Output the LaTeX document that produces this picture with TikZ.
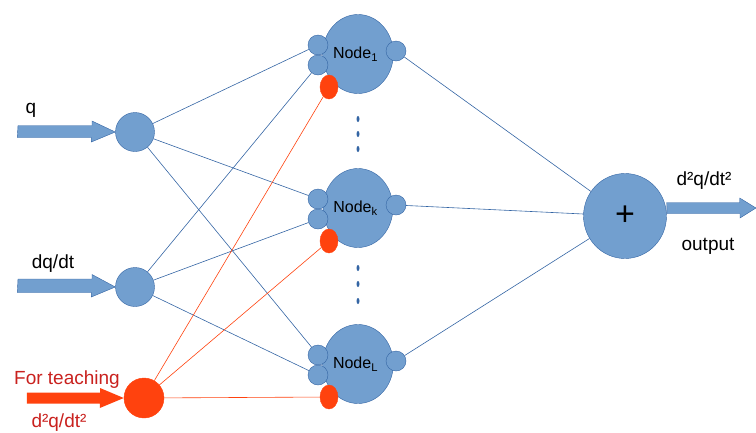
\documentclass[tikz,border=0pt]{standalone}
\usepackage{fontspec}
\setmainfont{Liberation Sans}
\usetikzlibrary{shapes.geometric}
\definecolor{nnfill}{HTML}{729FCF}
\definecolor{nnline}{HTML}{3465A4}
\definecolor{teach}{HTML}{FF420E}
\definecolor{teachtext}{HTML}{C9211E}
\tikzset{
  neuron/.style={circle, fill=nnfill, draw=nnline, minimum size=39pt, inner sep=0pt},
  port/.style={circle, fill=nnfill, draw=nnline, minimum size=20pt, inner sep=0pt},
  tport/.style={ellipse, fill=teach, draw=teach, minimum width=18pt, minimum height=24pt, inner sep=0pt},
  body/.style={ellipse, fill=nnfill, draw=nnline, minimum width=58pt, minimum height=79pt, inner sep=0pt, font=\fontsize{16}{18}\selectfont},
  wire/.style={draw=nnline, line width=0.6pt},
  twire/.style={draw=teach, line width=0.6pt},
  lbl/.style={font=\fontsize{19}{22}\selectfont, inner sep=0pt},
  dot/.style={ellipse, fill=nnline, minimum width=3pt, minimum height=6pt, inner sep=0pt},
}
\begin{document}
\begin{tikzpicture}[x=1pt,y=-1pt]
  \useasboundingbox (0,0) rectangle (756,432);
  % inputs
  \node[neuron] (q) at (135,132) {};
  \node[neuron] (dq) at (135,287) {};
  \node[neuron, fill=teach, draw=teach, minimum size=40pt] (t) at (144,398) {};
  \coordinate (qin) at (18,131);
  \coordinate (dqin) at (18,284);
  \coordinate (tin) at (27,398);
  \fill[nnfill, draw=nnline] (qin) ++(0,-5.5) -- ++(74,0) -- ++(0,-4.5) -- (q.west) -- ++(-24,10) -- ++(0,-4.5) -- ++(-74,0) -- cycle;
  \fill[nnfill, draw=nnline] (dqin) ++(0,-5) -- ++(74,0) -- ++(0,-4.5) -- (dq.west) -- ++(-24,10) -- ++(0,-4.5) -- ++(-74,0) -- cycle;
  \fill[teach] (tin) ++(0,-5.5) -- ++(73,0) -- ++(0,-4.5) -- (t.west) -- ++(-24,10) -- ++(0,-4.5) -- ++(-73,0) -- cycle;
  \node[lbl] (lq) at (31,110) {q};
  \node[lbl] (ldq) at (53,264) {dq/dt};
  \node[lbl, text=teachtext] (lt) at (67,380) {For teaching};
  \node[lbl, text=teachtext] (lt2) at (59,423) {d²q/dt²};
  % hidden nodes
  \foreach \n/\y/\s in {1/54/1, k/208/k, L/364/L}{
    \node[body] (n\n) at (358,\y) {Node\textsubscript{\s}\hspace*{5pt}};
    \node[port] (a\n) at (318,\y-9) {};
    \node[port] (b\n) at (318,\y+11) {};
    \node[tport] (r\n) at (329,\y+33) {};
    \node[port] (o\n) at (396,\y-3) {};
  }
  \foreach \y in {119,134,149,268,284,301}
    \node[dot] (d\y) at (358,\y) {};
  % output
  \node[ellipse, fill=nnfill, draw=nnline, minimum width=83pt, minimum height=85pt, inner sep=0pt, font=\fontsize{34}{34}\selectfont] (sum) at (625,216) {+};
  \coordinate (out) at (756,208);
  \fill[nnfill, draw=nnline] (sum.east |- out) ++(0,-5.5) -- ++(73,0) -- ++(0,-4.5) -- (out) -- ++(-16,10) -- ++(0,-4.5) -- ++(-73,0) -- cycle;
  \node[lbl] (ld) at (704,181) {d²q/dt²};
  \node[lbl] (lo) at (708,246) {output};
  % connections
  \path[wire]
  (q) edge (a1) edge (ak) edge (aL)
  (dq) edge (b1) edge (bk) edge (bL)
  (o1) edge (sum) (ok) edge (sum) (oL) edge (sum);
  \path[twire]
  (t) edge (r1) edge (rk) edge (rL);
\end{tikzpicture}
\end{document}
